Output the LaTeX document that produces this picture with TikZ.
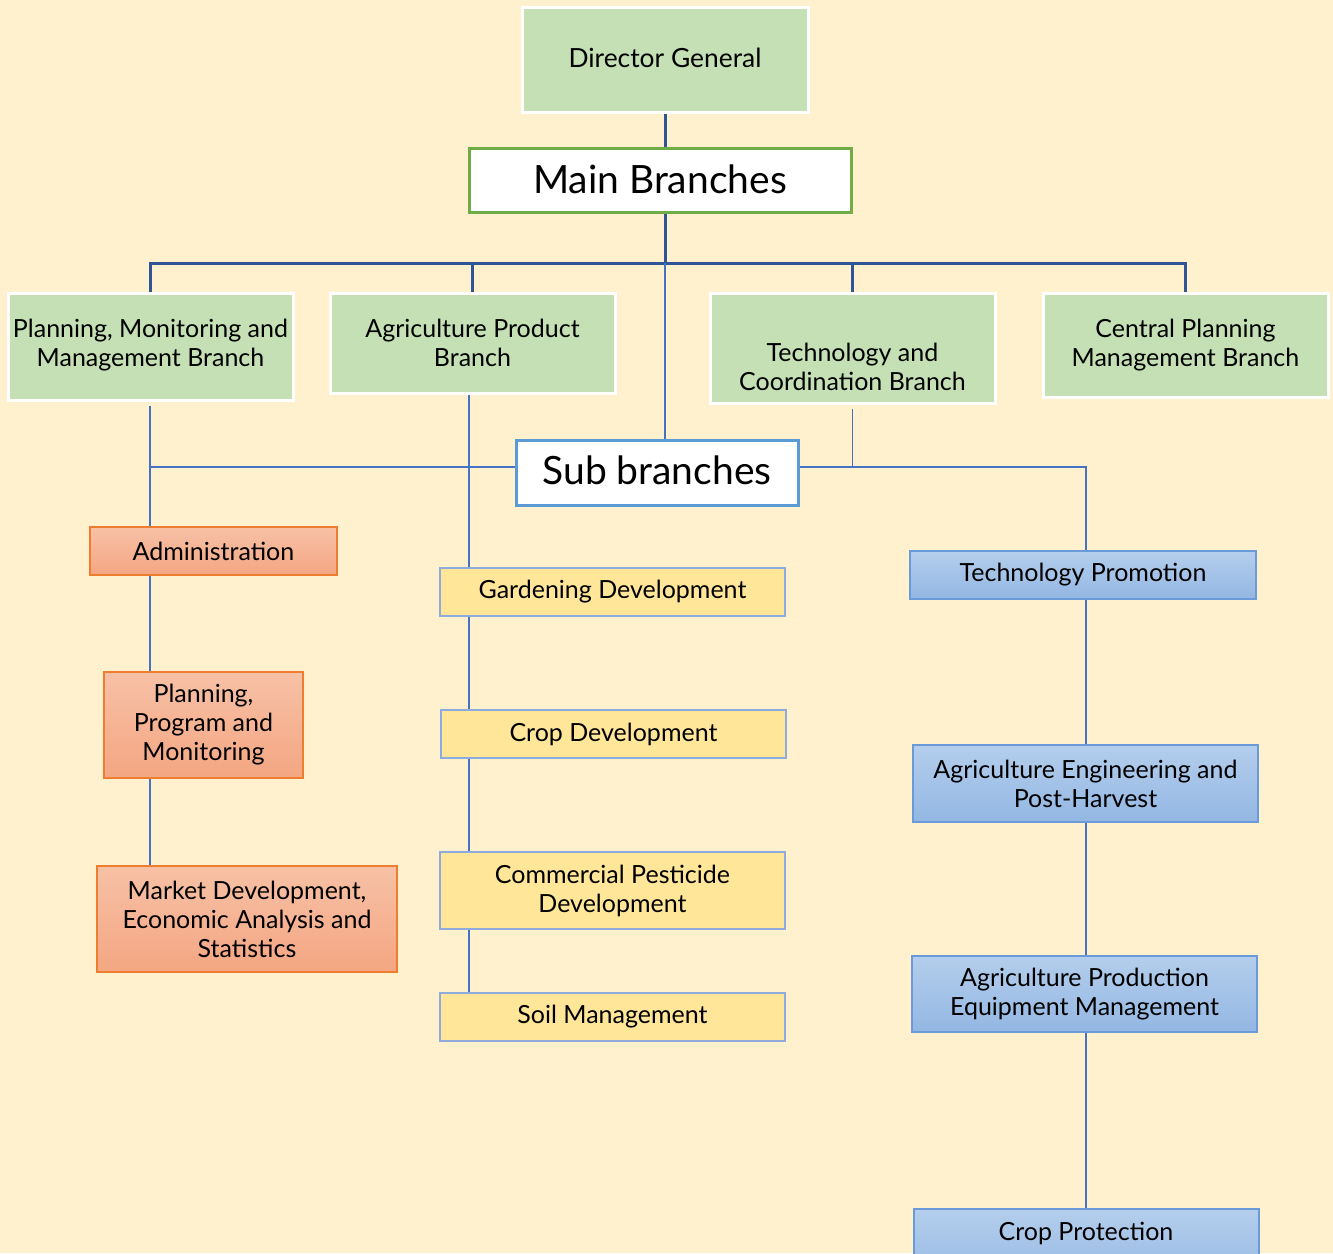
\documentclass[tikz,border=0pt]{standalone}
\usepackage{fontspec}
\setmainfont{Lato}
\usetikzlibrary{fit}

\definecolor{bgc}{HTML}{FFF1CD}
\definecolor{greenfill}{HTML}{C5E0B4}
\definecolor{greenline}{HTML}{70AD47}
\definecolor{trunkc}{HTML}{2F5597}
\definecolor{twigc}{HTML}{4472C4}
\definecolor{subline}{HTML}{5B9BD5}
\definecolor{orTop}{HTML}{F7C1A6}
\definecolor{orBot}{HTML}{F4A682}
\definecolor{orLine}{HTML}{ED7D31}
\definecolor{yeFill}{HTML}{FFE699}
\definecolor{yeLine}{HTML}{8FAADC}
\definecolor{blTop}{HTML}{B4CEEC}
\definecolor{blBot}{HTML}{93B7E3}
\definecolor{blLine}{HTML}{6A9BD8}

\tikzset{
  x=0.5pt, y=-0.5pt,
  box/.style={inner sep=0pt},
  lab/.style={align=center, text=black, inner sep=0pt,
    font=\fontsize{12.5}{14.5}\selectfont},
  biglab/.style={lab, font=\fontsize{19.5}{22}\selectfont},
  branch/.style={box, fill=greenfill, draw=white, line width=1.5pt},
  headbox/.style={box, fill=white, line width=1.5pt},
  orbox/.style={box, top color=orTop, bottom color=orBot, draw=orLine, line width=0.75pt},
  yebox/.style={box, fill=yeFill, draw=yeLine, line width=0.75pt},
  blbox/.style={box, top color=blTop, bottom color=blBot, draw=blLine, line width=0.75pt},
  trunk/.style={draw=trunkc, line width=1.5pt},
  twig/.style={draw=twigc, line width=0.6pt},
}

\begin{document}
\begin{tikzpicture}
  % canvas
  \fill[bgc] (0,0) rectangle (1333,1253);
  \useasboundingbox (0,0) rectangle (1333,1253);
  \clip (0,0) rectangle (1333,1253);

  % top of the chart
  \node[branch, fit={(522,7)(808,112)},
        label={[lab, font=\fontsize{13.2}{15}\selectfont, yshift=1pt]center:Director General}] (dg) {};
  \node[headbox, draw=greenline, fit={(469,148)(851,212)},
        label={[biglab, yshift=0.5pt]center:Main Branches}] (mb) {};

  % main branches
  \node[branch, fit={(8,293)(293,400)},
        label={[lab, yshift=0.5pt]center:{Planning, Monitoring and\\Management Branch}}] (pmmb) {};
  \node[branch, fit={(330,293)(615,393)},
        label={[lab]center:{Agriculture Product\\Branch}}] (apb) {};
  \node[branch, fit={(710,293)(995,403)},
        label={[lab, yshift=-9.5pt]center:{Technology and\\Coordination Branch}}] (tcb) {};
  \node[branch, fit={(1043,293)(1328,397)},
        label={[lab]center:{Central Planning\\Management Branch}}] (cpmb) {};

  % sub branches header
  \node[headbox, draw=subline, fit={(516,440)(798,505)},
        label={[biglab, yshift=1pt]center:Sub branches}] (sub) {};

  % planning column
  \node[orbox, fit={(90,527)(337,575)},
        label={[lab]center:Administration}] (adm) {};
  \node[orbox, fit={(104,672)(303,778)},
        label={[lab]center:{Planning,\\Program and\\Monitoring}}] (ppm) {};
  \node[orbox, fit={(97,866)(397,972)},
        label={[lab]center:{Market Development,\\Economic Analysis and\\Statistics}}] (mkt) {};

  % agriculture product column
  \node[yebox, fit={(440,568)(785,616)},
        label={[lab]center:Gardening Development}] (gard) {};
  \node[yebox, fit={(441,710)(786,758)},
        label={[lab]center:Crop Development}] (crop) {};
  \node[yebox, fit={(440,852)(785,929)},
        label={[lab]center:{Commercial Pesticide\\Development}}] (pest) {};
  \node[yebox, fit={(440,993)(785,1041)},
        label={[lab]center:Soil Management}] (soil) {};

  % technology column (last box runs past the lower edge)
  \node[blbox, fit={(910,551)(1256,599)},
        label={[lab]center:Technology Promotion}] (tp) {};
  \node[blbox, fit={(913,745)(1258,822)},
        label={[lab]center:{Agriculture Engineering and\\Post-Harvest}}] (aeph) {};
  \node[blbox, fit={(912,956)(1257,1032)},
        label={[lab]center:{Agriculture Production\\Equipment Management}}] (apem) {};
  \node[blbox, fit={(914,1209)(1259,1290)}] (cp) {};
  \node[lab] (cptext) at (1086,1233) {Crop Protection};

  % junction points of the connectors
  \coordinate (hub) at (665,263);
  \coordinate (lcol) at (150,467);
  \coordinate (ycol) at (469,467);
  \coordinate (rcol) at (1086,467);

  % main tree
  \draw[trunk] (dg.south -| hub) -- (mb.north -| hub);
  \draw[trunk] (mb.south -| hub) -- (hub);
  \draw[trunk] (pmmb.north) |- (hub) -| (cpmb.north);
  \draw[trunk] (apb.north) -- (apb.north |- hub);
  \draw[trunk] (tcb.north) -- (tcb.north |- hub);

  % sub branch links
  \draw[twig] (hub) -- (hub |- sub.north);
  \draw[twig] (sub.west |- lcol) -- (lcol);
  \draw[twig] (sub.east |- rcol) -- (rcol) -- (tp.north -| rcol);
  \draw[twig] ([yshift=-2pt]tcb.south) -- (tcb.south |- rcol);

  \draw[twig] ([yshift=-2pt]pmmb.south -| lcol) -- (adm.north -| lcol);
  \draw[twig] (adm.south -| lcol) -- (ppm.north -| lcol);
  \draw[twig] (ppm.south -| lcol) -- (mkt.north -| lcol);

  \draw[twig] (apb.south -| ycol) -- (gard.north -| ycol);
  \draw[twig] (gard.south -| ycol) -- (crop.north -| ycol);
  \draw[twig] (crop.south -| ycol) -- (pest.north -| ycol);
  \draw[twig] (pest.south -| ycol) -- (soil.north -| ycol);

  \draw[twig] (tp.south -| rcol) -- (aeph.north -| rcol);
  \draw[twig] (aeph.south -| rcol) -- (apem.north -| rcol);
  \draw[twig] (apem.south -| rcol) -- (cp.north -| rcol);
\end{tikzpicture}
\end{document}
